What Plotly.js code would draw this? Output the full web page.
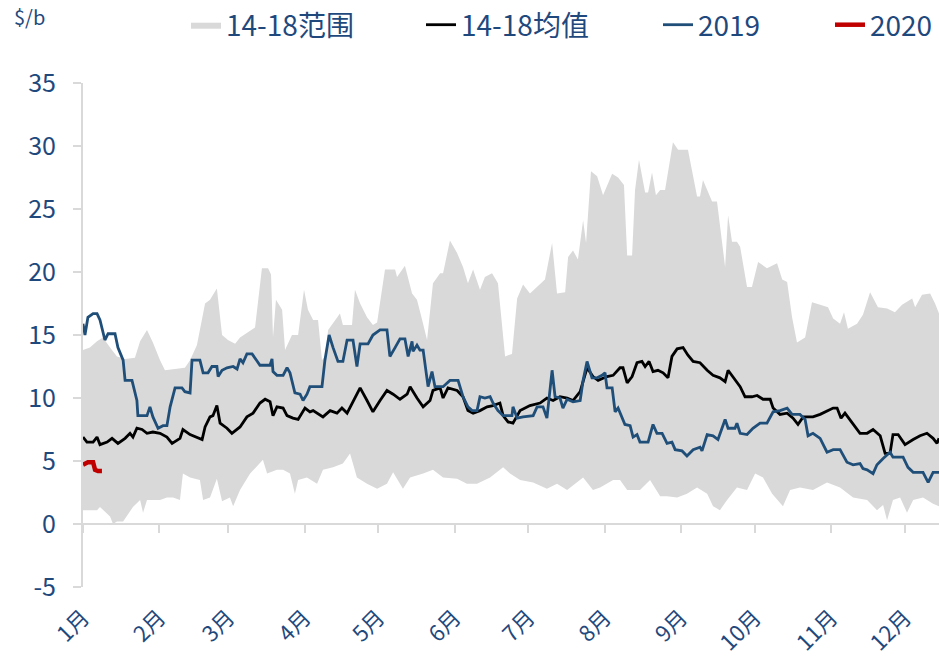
<!DOCTYPE html>
<html><head><meta charset="utf-8">
<script src="https://cdn.plot.ly/plotly-3.0.1.min.js"></script>
<style>html,body{margin:0;padding:0;background:#fff}#chart{width:939px;height:664px}</style>
</head><body><div id="chart"></div>
<script>
// x values are day-of-year (0 = 1 Jan)
const monthDays = [0,31,59,90,120,151,181,212,243,273,304,334];
const monthLabels = ['1月','2月','3月','4月','5月','6月','7月','8月','9月','10月','11月','12月'];
const yTickVals = [-5,0,5,10,15,20,25,30,35];
const yTickText = ['-5','0','5','10','15','20','25','30','35'];

const upperX = [0,2.8,5.7,8.1,11,13.8,17.1,21.1,23.2,26,28.4,31.3,33.3,37.4,41.4,43.5,46.3,49.6,51.6,54.4,56.5,58.9,61.8,63.8,67,69.9,72.7,75.2,76.4,77.2,78.4,80.9,82.1,84.9,87.4,89.8,91.4,93.5,95.5,97.1,98.3,99.6,104.4,105.6,109.3,110.5,112.6,115.4,117.8,119.5,122.7,126.8,127.6,130.8,133.7,135.7,137.8,139.8,142.2,145.1,146.3,149.1,152,154.4,156.4,158.5,161.3,163.3,166.2,168.6,171.5,174.3,176.4,178.8,181.6,184.5,187.7,190.6,192.6,195.9,197.1,199.1,201.1,203.2,204.4,206.4,208.9,211.3,215,217.4,219.8,221.1,223.1,224.3,225.9,228.4,229.6,231.2,232.8,234.5,236.5,239.7,241.8,245.8,249.5,250.7,251.9,255.6,257.6,260.9,262.1,263.7,265.7,267,269.8,271.8,274.3,277.9,282,284.1,286.1,288.1,290.1,293.4,296.2,299.5,302.7,304.8,307.6,309.2,310.8,314.5,316.9,319.8,323,326.7,329.9,332.8,336.9,338.1,340.9,344.2,346.2,347.8];
const upperY = [13.8,14.0,14.5,14.8,14.0,13.3,13.1,13.2,14.5,15.4,14.4,13.0,12.2,12.3,12.4,13.0,14.2,17.5,17.8,18.7,15.0,14.6,14.3,14.8,15.2,15.6,20.3,20.3,19.8,14.8,17.8,17.0,13.8,15.0,15.0,18.6,17.0,16.2,16.2,13.0,13.3,15.4,16.7,15.8,15.8,18.6,17.5,16.4,15.8,16.0,20.2,20.2,19.6,20.5,18.3,17.8,16.2,14.6,19.1,19.9,19.9,22.5,21.5,20.4,19.1,20.2,18.6,19.6,19.9,19.1,13.3,13.5,17.9,19.0,18.3,18.8,19.4,22.3,18.3,18.4,21.2,21.7,21.0,24.1,22.3,28.0,27.6,26.1,27.8,27.5,26.9,21.3,21.3,26.5,28.9,26.3,26.3,27.9,26.1,26.5,26.5,30.3,29.7,29.7,26.0,26.0,27.3,25.6,25.6,20.4,24.5,22.4,22.4,22.0,18.8,18.8,20.8,20.3,20.7,19.4,19.2,16.4,14.4,14.8,17.6,17.4,17.2,16.3,15.9,16.8,15.5,15.9,16.6,18.4,17.2,17.1,16.8,17.4,17.9,17.2,18.2,18.3,17.5,16.7];

const lowerX = [0,5.7,6.9,11,12.2,13.8,16.3,17.9,20.3,23.2,24.4,26,28.4,31.3,34.1,36.6,39.4,40.6,43.5,47.5,48.8,51.6,54.4,56.5,59.7,61,63.8,67.9,73.1,74.8,78.8,81.3,84.1,86.1,87.4,91,95.1,97.5,101.6,105.6,108.5,111.3,115.4,119.5,123.5,126,128.8,130,132.9,138.2,142.2,146.3,152,156,160.1,165.4,170.7,173.5,177.6,182.9,188.5,192.6,196.7,203.2,207.2,210.1,215.4,218.2,221.1,226.3,230.4,234.5,237.3,241.4,245.4,249.5,253.6,256,258.8,261.7,265.7,269.8,273.1,276.3,280,284.4,287.3,291.3,296.6,302.3,307.6,312.9,318.6,322.6,325.1,326.7,329.1,332,334.8,337.3,341.3,345.4,347.8];
const lowerY = [1.1,1.1,1.35,0.6,0.0,0.2,0.2,0.6,1.35,1.9,0.9,1.9,1.9,1.9,2.1,2.1,1.9,4.0,3.7,3.5,1.9,2.1,3.6,1.8,2.1,1.4,2.7,4.0,5.1,4.0,4.3,4.3,4.0,2.4,3.5,3.7,3.2,4.3,4.5,4.8,5.6,3.7,3.2,2.8,3.2,4.1,3.2,2.8,3.7,4.0,4.3,3.7,3.6,3.2,3.2,3.7,4.5,4.0,3.5,3.3,2.8,3.2,2.7,3.7,2.7,2.9,3.5,3.5,2.7,2.7,3.5,2.2,2.2,2.1,2.4,2.9,2.4,1.4,1.1,1.9,2.9,2.7,4.0,3.7,2.4,1.4,2.7,2.9,2.7,3.3,2.9,2.1,1.9,1.1,1.5,0.3,1.9,2.1,0.9,1.9,2.1,1.6,1.4];

const meanX = [0,1.6,4.1,5.7,6.9,9.8,11.8,14.2,17.1,19.1,20.3,21.9,24,26,28.4,31.3,34.1,36.2,39.4,40.6,43.5,46.3,48.4,49.6,51.6,52.8,54.4,55.7,58.5,60.5,63.8,66.6,69.1,71.9,74,76,77.2,78.8,81.3,82.9,85.3,87.4,90.2,92.2,93.5,97.5,100.4,103.2,105.2,107.3,109.7,112.6,115.4,117.8,120.7,123.5,126,128.8,131.7,132.9,135.7,138.2,141,142.2,145.1,146.3,148.3,152,154.4,156.4,158.5,161.3,164.2,166.6,169.4,170.7,172.7,174.7,177.6,181.6,185.7,188.5,191,193.8,196.7,199.1,202,204.8,207.2,209.3,212.9,215.4,218.2,219.4,221.1,223.1,225.1,227.1,228.4,230,231.6,233.6,235.7,237.7,239.3,241.4,243.8,245.8,247.9,250.7,253.6,256,258.8,260.9,262.1,264.1,267,269,271.8,273.9,276.3,279.2,280.4,283.2,286.1,288.5,290.5,292.6,296.6,299.5,302.3,304.8,306.4,308,309.6,312.9,315.7,318.6,321,323.9,325.9,327.9,329.1,331.2,334,337.3,340.1,342.9,345.4,347,347.8];
const meanY = [6.9,6.5,6.5,6.9,6.3,6.5,6.8,6.4,6.8,7.2,6.9,7.6,7.5,7.2,7.3,7.2,6.9,6.4,6.8,7.5,7.1,6.9,6.7,7.7,8.5,8.6,9.4,8.0,7.6,7.2,7.7,8.5,8.8,9.6,9.9,9.7,8.6,9.3,9.2,8.6,8.4,8.3,9.2,8.9,9.0,8.5,9.0,8.8,9.2,8.8,9.7,10.8,9.8,8.9,9.8,10.6,10.3,9.9,10.3,10.9,10.0,9.3,9.8,10.6,10.8,10.0,10.8,10.6,10.1,9.0,8.8,9.0,9.3,9.4,9.6,8.6,8.1,8.0,9.0,9.4,9.6,10.0,9.8,10.1,10.0,9.8,10.5,12.4,11.7,11.4,11.7,11.8,12.4,12.4,11.2,11.7,12.8,12.9,12.5,12.9,12.1,12.2,12.0,11.6,13.3,13.9,14.0,13.4,12.9,12.8,12.2,11.8,11.6,11.3,12.2,11.7,10.9,10.1,10.1,10.2,9.9,9.9,9.2,8.7,8.8,8.4,7.9,8.5,8.5,8.7,9.0,9.2,9.2,8.4,8.8,7.9,7.2,7.2,7.5,7.0,5.6,5.6,7.1,7.1,6.3,6.7,7.0,7.2,6.8,6.4,6.8];

const y2019X = [0,0.8,2,4.1,5.7,6.9,8.9,10.2,13,14.2,16.3,17.1,19.9,21.9,22.3,26,27.2,28.4,30.5,32.5,34.1,35.4,37.4,40.2,41.4,43.5,44.3,47.5,48.8,50.8,52.4,54.4,54.9,56.5,58.5,61,62.6,63.8,65,66.6,68.7,70.7,71.9,76,76.8,77.2,78.8,81.3,82.9,84.1,86.1,88.2,89.4,91,92.2,96.3,97.1,98.3,100,101.6,103.6,105.6,107.3,109.7,111.3,112.6,115.8,117.8,120.7,123.5,124.7,126.8,128.8,130.8,132.1,133.7,134.1,135.7,136.9,138.2,140.2,141.8,143,146.3,149.1,152.4,154.4,156.4,158.1,160.1,161.3,163.3,165.4,166.6,168.6,170.7,174.3,174.7,176.4,178.8,182.9,184.5,186.9,188.5,190.6,191.8,193.8,195,196.7,199.1,202,203.2,204.8,206.8,208.9,210.9,212.1,212.9,215,216.2,217.4,220.2,222.3,223.5,225.1,226.3,229.6,231.6,233.2,235.3,237.3,239.3,240.6,243.4,245.4,247.9,250.7,251.5,253.6,256,258,260.9,262.1,264.9,265.7,267,269.8,272.2,275.1,277.9,280.4,283.2,286.1,288.1,291.3,293.4,294.6,296.6,299.5,302.3,304.8,307.6,310.4,312.9,315.7,316.9,318.6,321,322.6,325.1,327.9,329.1,333.2,335.2,337.3,341.3,343.4,345.4,347.8];
const y2019Y = [15.9,15.0,16.4,16.7,16.7,16.2,14.6,15.1,15.1,14.0,13.0,11.4,11.4,9.8,8.6,8.6,9.3,8.5,7.6,7.8,7.8,9.3,10.8,10.8,10.5,10.4,13.0,13.0,12.0,12.0,12.5,12.5,11.7,12.2,12.4,12.5,12.3,13.1,12.8,13.5,13.5,12.9,12.6,12.6,13.1,12.1,11.8,11.8,12.4,12.0,10.4,10.3,9.8,10.3,10.9,10.9,10.9,13.0,15.0,14.0,12.9,12.9,14.6,14.6,12.5,14.3,14.3,15.0,15.4,15.4,13.3,14.0,14.7,14.7,13.3,14.5,13.7,14.2,13.8,13.8,10.9,12.1,10.9,10.9,11.4,11.4,10.1,9.3,9.0,9.0,10.1,10.0,10.1,9.6,9.0,8.6,8.6,9.3,8.4,8.5,8.6,9.3,9.3,8.4,12.2,10.1,10.0,9.2,9.9,9.7,9.8,11.4,12.9,11.6,11.6,11.8,12.0,10.8,10.8,8.9,9.2,7.9,7.8,6.9,7.1,6.5,6.5,7.9,7.2,7.2,6.4,6.5,5.9,5.8,5.4,5.9,6.1,5.8,7.1,7.0,6.7,8.3,7.6,7.6,8.0,7.2,7.1,7.6,8.0,8.0,8.9,9.0,9.2,8.7,8.7,8.3,7.0,7.2,6.8,5.7,5.9,5.9,4.9,4.7,4.8,4.4,4.3,4.0,4.7,5.2,5.7,5.3,5.3,4.5,4.1,4.1,3.3,4.1,4.1];

const y2020X = [0,2,4.1,4.9,6.1,7.7];
const y2020Y = [4.7,4.9,4.9,4.3,4.2,4.2];

const txt = '#1F497D';
const axisGray = '#D9D9D9';
const fontFam = 'Noto Sans CJK SC, Noto Sans, sans-serif';

const traces = [
  {x: upperX.concat(lowerX.slice().reverse()), y: upperY.concat(lowerY.slice().reverse()),
   mode:'lines', fill:'toself', fillcolor:'#D9D9D9', line:{width:0, color:'#D9D9D9'},
   name:'14-18范围', hoverinfo:'skip', legend:'legend'},
  {x: meanX, y: meanY, mode:'lines', line:{color:'#000000', width:2.8}, name:'14-18均值', legend:'legend2'},
  {x: y2019X, y: y2019Y, mode:'lines', line:{color:'#1F4E79', width:2.8}, name:'2019', legend:'legend3'},
  {x: y2020X, y: y2020Y, mode:'lines', line:{color:'#C00000', width:4.5}, name:'2020', legend:'legend4'},
  {x: [], y: [], xaxis:'x2', showlegend:false, hoverinfo:'skip', mode:'lines'}
];

function leg(xpx) {
  return {orientation:'h', x:(xpx-83)/856, xanchor:'left', y:1.165, yanchor:'top',
          font:{size:28, color:txt, family:fontFam}, bgcolor:'rgba(0,0,0,0)'};
}

const layout = {
  width: 939, height: 664,
  margin: {l:83, r:0, t:83, b:77},
  paper_bgcolor:'#ffffff', plot_bgcolor:'#ffffff',
  font: {family: fontFam, color: txt},
  showlegend: true,
  legend: leg(186), legend2: leg(421), legend3: leg(658), legend4: leg(830),
  xaxis: {range:[0,347.8], tickmode:'array', tickvals:monthDays, ticktext:monthLabels,
          tickangle:-45, showline:false, ticks:'outside', ticklen:8, tickcolor:'rgba(0,0,0,0)',
          showgrid:false, zeroline:false, tickfont:{size:22, color:txt}},
  xaxis2: {overlaying:'x', anchor:'free', position:0.125, side:'bottom', range:[0,347.8],
           tickmode:'array', tickvals:monthDays, showticklabels:false, ticks:'outside',
           ticklen:8, tickwidth:2, tickcolor:axisGray, showline:true, linecolor:axisGray,
           linewidth:2, showgrid:false, zeroline:false},
  yaxis: {range:[-5,35], tickmode:'array', tickvals:yTickVals, ticktext:yTickText, ticks:'outside', ticklen:8,
          tickwidth:2, tickcolor:axisGray, showline:true, linecolor:axisGray, linewidth:2,
          showgrid:false, zeroline:false, tickfont:{size:25, color:txt}, ticklabelstandoff:12},
  annotations: [{text:'$/b', xref:'paper', yref:'paper', x:-0.083, y:1.165, xanchor:'left', yanchor:'top',
                 showarrow:false, font:{size:20, color:txt, family:fontFam}}]
};

Plotly.newPlot('chart', traces, layout, {displayModeBar:false, staticPlot:true});
</script></body></html>
